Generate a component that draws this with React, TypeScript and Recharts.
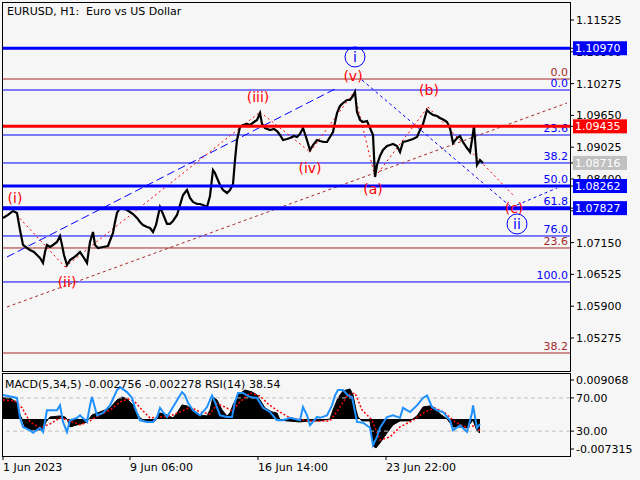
import React from 'react';
import { ComposedChart, Line, Area, XAxis, YAxis, ReferenceLine, ReferenceDot } from 'recharts';

const FONT = 'DejaVu Sans, Verdana, sans-serif';
const BLUE = '#0000ff';
const RED = '#ff0000';
const BROWN = '#a52a2a';
const GREY = '#c0c0c0';
const BG = '#f6f6f6';

// ---- price path (bar index, close) ----
const priceBars = [1,6,11,15,18,21,25,28,32,35,38,41,43,45,48,51,55,58,60,62,65,68,71,75,78,82,85,88,91,93,96,101,106,109,111,113,115,118,122,125,128,131,135,138,141,145,148,151,154,158,161,165,168,171,175,178,181,185,188,191,195,198,201,205,208,211,213,215,218,221,225,228,231,233,235,238,241,245,248,252,255,258,260,263,268,272,275,278,281,285,288,292,295,298,301,304,308,311,315,318,322,325,328,331,335,338,341,345,348,351,353,355,358,361,365,368,371,373,375,378,381,385,388,391,395,398,401,405,408,411,415,418,421,425,428,431,435,438,442,445,448,451,455,458,461,465,468,470,472,475,478,481];
const priceValues = [1.07634,1.07693,1.07771,1.07732,1.07398,1.07103,1.07044,1.07005,1.06965,1.06906,1.06847,1.06749,1.06965,1.07103,1.07064,1.07103,1.07162,1.0728,1.07103,1.06906,1.0671,1.06808,1.06847,1.06906,1.06965,1.06847,1.06749,1.07162,1.07358,1.07103,1.07044,1.07064,1.07083,1.0724,1.07339,1.07555,1.07732,1.0783,1.0781,1.07791,1.07751,1.07712,1.07634,1.07555,1.07496,1.07457,1.07437,1.07358,1.07496,1.0785,1.07712,1.07516,1.07516,1.07575,1.07693,1.07889,1.08086,1.08184,1.08027,1.07948,1.07909,1.07909,1.07889,1.0785,1.08066,1.08577,1.08518,1.0842,1.08282,1.08184,1.08125,1.08184,1.08302,1.08773,1.09167,1.09422,1.09461,1.09481,1.09461,1.0952,1.0956,1.09697,1.09481,1.09402,1.09363,1.09383,1.09343,1.09265,1.09167,1.09186,1.09206,1.09245,1.09226,1.09285,1.09402,1.09226,1.0897,1.09068,1.09167,1.09147,1.09127,1.09127,1.09226,1.09324,1.09697,1.09835,1.09894,1.09953,1.09953,1.10031,1.1011,1.09717,1.0956,1.0952,1.0954,1.09402,1.09265,1.08439,1.08675,1.08852,1.0897,1.09049,1.09068,1.09088,1.09049,1.08931,1.09127,1.09147,1.09167,1.09186,1.09226,1.09363,1.09481,1.09756,1.09697,1.09658,1.09638,1.09599,1.0956,1.0952,1.09402,1.09108,1.09206,1.09245,1.09127,1.09009,1.08931,1.09167,1.09442,1.08675,1.08773,1.08716];

// ---- MACD histogram ----
const macdBars = [1,8,15,18,20,23,28,35,41,44,48,58,63,65,68,75,83,87,90,98,108,115,120,125,131,135,138,143,153,156,158,165,171,175,180,185,191,198,205,208,211,215,220,225,228,231,236,243,250,255,258,263,270,275,278,285,298,308,318,328,331,336,341,348,351,354,356,360,368,371,374,378,385,391,398,408,415,421,428,433,438,445,451,458,465,468,471,475,478];
const macdValues = [0.00415,0.00415,0.00316,0.00079,0,-0.00178,-0.00217,-0.00217,-0.00217,-0.00059,0.00039,0.00059,0.00039,0,-0.00158,-0.00118,-0.00079,0,0.00079,0.00138,0.00217,0.00375,0.00434,0.00395,0.00276,0.00118,0.0002,-0.00039,-0.00039,0.00059,0.00118,0.00079,0.0002,0.00118,0.00276,0.00257,0.00178,0.00079,0.00059,0.00178,0.00434,0.00375,0.00178,0.00059,0.00118,0.00276,0.00474,0.00572,0.00533,0.00474,0.00375,0.00217,0.00138,0.00118,-0.0002,-0.00039,-0.00059,-0.00039,-0.00039,0,0.00178,0.00415,0.00553,0.00592,0.00474,0.00178,0.00039,-0.00039,-0.00039,-0.00533,-0.00572,-0.00474,-0.00276,-0.00118,-0.00039,-0.00039,0.00059,0.00237,0.00257,0.00217,0.00099,0,-0.00158,-0.00158,-0.00178,-0.00099,-0.0002,-0.00237,-0.00276];

// ---- MACD signal ----
const signalBars = [1,13,20,28,38,48,58,68,78,88,98,108,118,126,133,140,148,158,168,178,188,198,208,215,223,230,238,248,258,266,276,288,308,328,336,346,353,360,370,378,388,398,410,423,433,443,453,463,473,478];
const signalValues = [0.00375,0.00355,0.00217,-0.00059,-0.00178,-0.00099,0.0002,-0.00039,-0.00118,-0.00039,0.00079,0.00178,0.00336,0.00395,0.00336,0.00178,0.0002,0.00039,0.00059,0.00138,0.00237,0.00138,0.00099,0.00296,0.00237,0.00158,0.00336,0.00513,0.00454,0.00296,0.00158,0.0002,-0.00039,-0.00039,0.00178,0.00474,0.00513,0.00178,-0.0002,-0.00415,-0.00355,-0.00158,-0.00039,0.00138,0.00217,0.00118,-0.00059,-0.00158,-0.00138,-0.00228];

// ---- RSI(14) ----
const rsiBars = [1,15,18,21,28,31,38,41,45,51,55,58,61,65,68,75,78,85,88,90,95,101,108,115,118,125,130,133,138,145,151,155,158,161,165,171,180,183,186,191,198,205,210,213,218,225,230,233,236,241,248,255,261,268,275,281,288,298,301,305,308,315,318,325,330,333,336,341,346,350,351,355,361,368,371,375,378,385,391,398,401,408,415,421,425,430,435,441,448,451,458,465,470,471,475,478];
const rsiValues = [73.5,70,46,35,31,28,34,29,55,55,55,61,41,29,43,46,49,41,61,71,49,52,61,79.5,83,77,70,58,43,41,41,47,58,53,47,59,77,73,64,55,49,59,73,65,49,47,47,65,76,76,71,70,58,53,43,43,46,43,59,49,37,47,46,49,61,73,79.5,79.5,73,71,65,41,40,34,13,23,34,47,49,46,58,53,61,70,73,59,55,53,43,31,37,29,52,61,34,38.54];

// ---- axes ----
const priceDomain = [1.04626, 1.11879];
const priceTicks = [1.05275, 1.059, 1.06525, 1.0715, 1.07775, 1.084, 1.09025, 1.0965, 1.10275, 1.109, 1.11525];
const barDomain = [0, 568];
const dateTicks = [1, 128, 256, 384];
const dateLabels = ['1 Jun 2023', '9 Jun 06:00', '16 Jun 14:00', '23 Jun 22:00'];
const macdDomain = [-0.007315, 0.009068];
const subTicks = [91.6, 70, 30, 8.4];
const subTickLabels = ['0.009068', '70.00', '30.00', '-0.007315'];
const rsiLevels = [70, 30];

// ---- levels ----
const blueFibValues = [1.10149, 1.09265, 1.08715, 1.08262, 1.07827, 1.0728, 1.06376];
const blueFibLabels = ['0.0', '23.6', '38.2', '50.0', '61.8', '76.0', '100.0'];
const brownFibValues = [1.10365, 1.07044, 1.0498];
const brownFibLabels = ['0.0', '23.6', '38.2'];
const blueLevels = [1.1097, 1.08262, 1.07827];
const redLevels = [1.09435];
const bidPrice = 1.08716;
const boxPrices = [1.1097, 1.09435, 1.08716, 1.08262, 1.07827];

// ---- wave annotations ----
const waveNames = ['(i)', '(ii)', '(iii)', '(iv)', '(v)', '(a)', '(b)', '(c)'];
const waveLabelBars = [13, 65, 256, 308, 351, 371, 427, 512];
const waveLabelPrices = [1.08027, 1.06376, 1.10012, 1.08616, 1.10424, 1.08203, 1.10149, 1.0783];
const circleNames = ['i', 'ii'];
const circleBars = [353, 515];
const circlePrices = [1.10798, 1.07516];
const wavePathBars = [11, 63, 258, 308, 352, 373, 426, 511];
const wavePathPrices = [1.07771, 1.06671, 1.09717, 1.08931, 1.1011, 1.08439, 1.09815, 1.08086];
const blueChannelBars = [5, 333];
const blueChannelPrices = [1.06867, 1.10169];
const brownChannelBars = [5, 565];
const brownChannelPrices = [1.05884, 1.09894];
const blueWaveBars = [360, 508, 515, 555];
const blueWavePrices = [1.10346, 1.07869, 1.07889, 1.08223];

const priceData = priceBars.map((x, i) => ({ x, p: priceValues[i] }));
const allPriceTicks = [...priceTicks, ...boxPrices];

const subTable = (() => {
  const m = new Map<number, any>();
  const put = (xs: number[], vs: number[], key: string) =>
    xs.forEach((x, i) => {
      const r = m.get(x) || { x };
      r[key] = vs[i];
      m.set(x, r);
    });
  put(macdBars, macdValues, 'macd');
  put(signalBars, signalValues, 'signal');
  put(rsiBars, rsiValues, 'rsi');
  return Array.from(m.values()).sort((a, b) => a.x - b.x);
})();

const boxColor = (v: number) => {
  if (v === bidPrice) return GREY;
  if (redLevels.includes(v)) return RED;
  return BLUE;
};

const PriceTick = (props: any) => {
  const { x, y, payload } = props;
  const v = payload.value as number;
  if (boxPrices.includes(v)) {
    return (
      <g>
        <rect x={x - 3} y={y - 7} width={54} height={14} fill={boxColor(v)} />
        <text x={x - 1} y={y + 4} fill="#ffffff" fontSize={11} fontFamily={FONT}>
          {v.toFixed(5)}
        </text>
      </g>
    );
  }
  return (
    <text x={x} y={y + 4} fill="#000" fontSize={11} fontFamily={FONT}>
      {v.toFixed(5)}
    </text>
  );
};

const fibLabel = (fib: string, color: string) => (props: any) => {
  const vb = props.viewBox || {};
  const x = vb.x ?? 0;
  const y = vb.y ?? 0;
  const w = vb.width ?? 0;
  return (
    <text x={x + w - 2} y={y - 3} textAnchor="end" fill={color} fontSize={11} fontFamily={FONT}>
      {fib}
    </text>
  );
};

const textLabel = (txt: string, color: string) => (props: any) => {
  const vb = props.viewBox || {};
  const cx = (vb.x ?? 0) + (vb.width ?? 0) / 2;
  const cy = (vb.y ?? 0) + (vb.height ?? 0) / 2;
  return (
    <text x={cx} y={cy + 5} textAnchor="middle" fill={color} fontSize={14} fontFamily={FONT}>
      {txt}
    </text>
  );
};

const DateTick = (props: any) => {
  const { x, y, payload } = props;
  const idx = dateTicks.indexOf(payload.value);
  return (
    <text x={x} y={y + 9} textAnchor="start" fill="#000" fontSize={11} fontFamily={FONT}>
      {idx >= 0 ? dateLabels[idx] : ''}
    </text>
  );
};

const SubTick = (props: any) => {
  const { x, y, payload } = props;
  const idx = subTicks.indexOf(payload.value);
  return (
    <text x={x} y={y + 4} fill="#000" fontSize={11} fontFamily={FONT}>
      {idx >= 0 ? subTickLabels[idx] : ''}
    </text>
  );
};

const seg = (xs: number[], ys: number[], i: number) => [
  { x: xs[i], y: ys[i] },
  { x: xs[i + 1], y: ys[i + 1] },
];

export default function App() {
  return (
    <div style={{ position: 'absolute', left: 0, top: 0, width: 640, height: 480, background: BG, overflow: 'hidden' }}>
      <div style={{ position: 'absolute', left: 0, top: 0 }}>
        <ComposedChart width={640} height={373} data={priceData} margin={{ top: 2, right: 0, bottom: 2, left: 2 }}>
          <XAxis dataKey="x" type="number" domain={barDomain} allowDataOverflow hide />
          <YAxis
            orientation="right"
            width={70}
            type="number"
            domain={priceDomain}
            allowDataOverflow
            ticks={allPriceTicks}
            interval={0}
            tick={<PriceTick />}
            tickSize={4}
            tickLine={{ stroke: '#000' }}
            axisLine={false}
          />
          {brownFibValues.map((v, i) => (
            <ReferenceLine key={'bf' + i} y={v} stroke={BROWN} strokeWidth={1} label={fibLabel(brownFibLabels[i], BROWN)} />
          ))}
          {blueFibValues.map((v, i) => (
            <ReferenceLine key={'f' + i} y={v} stroke={BLUE} strokeWidth={1} label={fibLabel(blueFibLabels[i], BLUE)} />
          ))}
          <ReferenceLine
            segment={seg(blueChannelBars, blueChannelPrices, 0)}
            stroke={BLUE}
            strokeDasharray="8 4"
            ifOverflow="visible"
          />
          <ReferenceLine
            segment={seg(brownChannelBars, brownChannelPrices, 0)}
            stroke={BROWN}
            strokeDasharray="3 3"
            ifOverflow="visible"
          />
          {[0, 2].map((i) => (
            <ReferenceLine key={'bw' + i} segment={seg(blueWaveBars, blueWavePrices, i)} stroke={BLUE} strokeDasharray="3 3" ifOverflow="visible" />
          ))}
          {wavePathBars.slice(0, -1).map((_, i) => (
            <ReferenceLine key={'w' + i} segment={seg(wavePathBars, wavePathPrices, i)} stroke={RED} strokeDasharray="2 3" ifOverflow="visible" />
          ))}
          <Line dataKey="p" stroke="#000" strokeWidth={2.2} dot={false} isAnimationActive={false} type="linear" />
          {blueLevels.map((v, i) => (
            <ReferenceLine key={'bl' + i} y={v} stroke={BLUE} strokeWidth={i === 2 ? 4 : 3} />
          ))}
          {redLevels.map((v, i) => (
            <ReferenceLine key={'rl' + i} y={v} stroke={RED} strokeWidth={3} />
          ))}
          {waveNames.map((n, i) => (
            <ReferenceDot key={'wl' + i} x={waveLabelBars[i]} y={waveLabelPrices[i]} r={0} fill="none" stroke="none" label={textLabel(n, RED)} />
          ))}
          {circleNames.map((n, i) => (
            <ReferenceDot key={'cl' + i} x={circleBars[i]} y={circlePrices[i]} r={10} fill="none" stroke={BLUE} strokeWidth={1} label={textLabel(n, BLUE)} />
          ))}
        </ComposedChart>
      </div>
      <div style={{ position: 'absolute', left: 0, top: 371 }}>
        <ComposedChart width={640} height={109} data={subTable} margin={{ top: 2, right: 0, bottom: 0, left: 2 }}>
          <XAxis
            dataKey="x"
            type="number"
            domain={barDomain}
            allowDataOverflow
            ticks={dateTicks}
            interval={0}
            height={24}
            tick={<DateTick />}
            tickSize={4}
            tickLine={{ stroke: '#000' }}
            axisLine={false}
          />
          <YAxis yAxisId="macd" type="number" domain={macdDomain} allowDataOverflow hide />
          <YAxis
            yAxisId="rsi"
            orientation="right"
            width={70}
            type="number"
            domain={[0, 100]}
            allowDataOverflow
            ticks={subTicks}
            interval={0}
            tick={<SubTick />}
            tickSize={4}
            tickLine={{ stroke: '#000' }}
            axisLine={false}
          />
          {rsiLevels.map((v) => (
            <ReferenceLine key={'rs' + v} yAxisId="rsi" y={v} stroke={GREY} strokeDasharray="4 3" />
          ))}
          <Area yAxisId="macd" dataKey="macd" type="linear" baseValue={0} fill="#000" fillOpacity={1} stroke="#000" strokeWidth={1} connectNulls isAnimationActive={false} />
          <Line yAxisId="macd" dataKey="signal" type="linear" stroke={RED} strokeWidth={1.5} strokeDasharray="2 2" dot={false} connectNulls isAnimationActive={false} />
          <Line yAxisId="rsi" dataKey="rsi" type="linear" stroke="#1e90ff" strokeWidth={2} dot={false} connectNulls isAnimationActive={false} />
        </ComposedChart>
      </div>
      <div style={{ position: 'absolute', left: 2, top: 2, width: 569, height: 370, boxSizing: 'border-box', border: '1px solid #000', pointerEvents: 'none' }} />
      <div style={{ position: 'absolute', left: 2, top: 373, width: 569, height: 84, boxSizing: 'border-box', border: '1px solid #000', pointerEvents: 'none' }} />
      <div style={{ position: 'absolute', left: 7, top: 5, fontFamily: FONT, fontSize: 11, whiteSpace: 'pre', color: '#000', lineHeight: '13px' }}>
        {'EURUSD, H1:  Euro vs US Dollar'}
      </div>
      <div style={{ position: 'absolute', left: 5, top: 378, fontFamily: FONT, fontSize: 11, whiteSpace: 'pre', color: '#000', lineHeight: '13px' }}>
        {'MACD(5,34,5) -0.002756 -0.002278 RSI(14) 38.54'}
      </div>
    </div>
  );
}
